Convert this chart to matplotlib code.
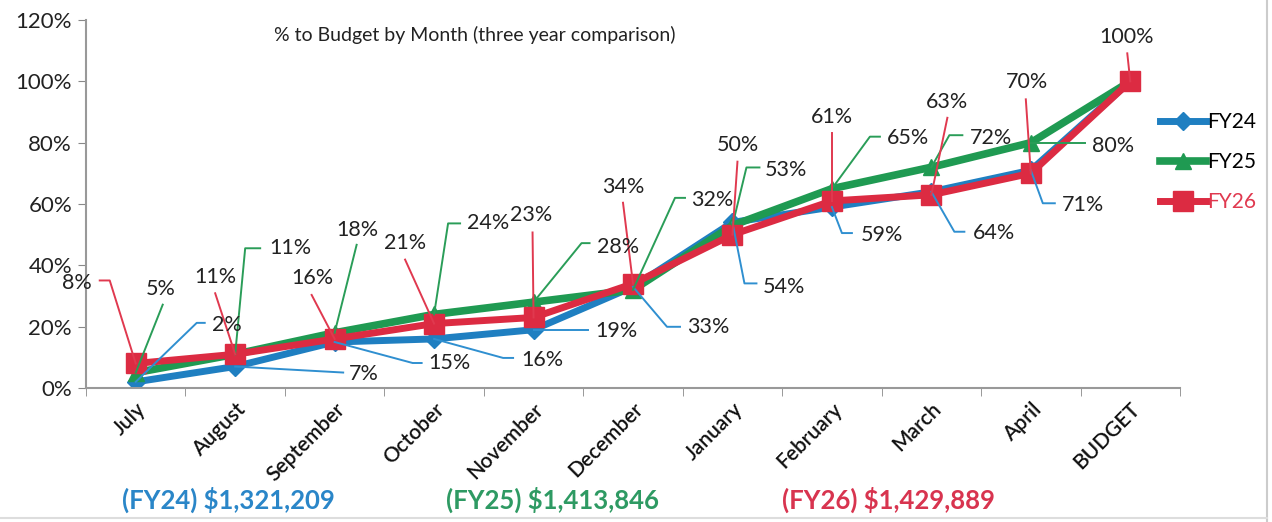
import matplotlib.pyplot as plt
from matplotlib.lines import Line2D

plt.rcParams['font.family'] = ['Lato', 'DejaVu Sans']

# Данные
months = ['July', 'August', 'September', 'October', 'November', 'December',
          'January', 'February', 'March', 'April', 'BUDGET']
fy24 = [2, 7, 15, 16, 19, 33, 54, 59, 64, 71, 100]
fy25 = [5, 11, 18, 24, 28, 32, 53, 65, 72, 80, 100]
fy26 = [8, 11, 16, 21, 23, 34, 50, 61, 63, 70, 100]
series_names = ['FY24', 'FY25', 'FY26']
totals = ['$1,321,209', '$1,413,846', '$1,429,889']

blue = '#1f7fc1'
green = '#1f9a52'
red = '#dc2b42'

# Положение подписей: смещение текста (px) и излом выноски (px), y вниз
lbl24 = [((91, -57), [(61, -59), (69, -59)]),
         ((129, 7), [(108, 6)]),
         ((115, 21), [(78, 21), (87, 21)]),
         ((108, 21), [(69, 19), (79, 19)]),
         ((83, 1), [(54, 0)]),
         ((75, 40), [(34, 40), (47, 40)]),
         ((52, 65), [(12, 61), (24, 61)]),
         ((50, 28), [(10, 26), (20, 26)]),
         ((63, 41), [(23, 40), (33, 40)]),
         ((52, 35), [(12, 33), (24, 33)]),
         None]
lbl25 = [((25, -84), [(27, -68)]),
         ((55, -106), [(10, -106), (25, -106)]),
         ((23, -103), [(22, -88)]),
         ((54, -91), [(14, -91), (26, -91)]),
         ((85, -55), [(48, -59), (56, -59)]),
         ((79, -90), [(42, -92), (52, -92)]),
         ((54, -55), [(14, -58), (27, -58)]),
         ((76, -51), [(38, -52), (48, -52)]),
         ((60, -29), [(18, -32), (31, -32)]),
         ((82, 3), [(54, 0)]),
         None]
lbl26 = [((-59, -80), [(-26, -83), (-36, -83)]),
         ((-20, -77), [(-20, -61)]),
         ((-22, -61), [(-23, -44)]),
         ((-29, -81), [(-29, -64)]),
         ((-2, -102), [(-1, -85)]),
         ((-10, -97), [(-10, -81)]),
         ((5, -90), [(5, -73)]),
         ((0, -84), [(0, -68)]),
         ((16, -93), [(16, -77)]),
         ((-4, -91), [(-5, -74)]),
         ((-4, -44), [(-3, -28)])]

fig = plt.figure(figsize=(12.72, 5.22), dpi=100)
ax = fig.add_axes([86 / 1272, 1 - 388 / 522, 1094 / 1272, 368 / 522])

x = list(range(len(months)))
l1, = ax.plot(x, fy24, color=blue, lw=5, marker='D', ms=9, zorder=2)
l2, = ax.plot(x, fy25, color=green, lw=5.5, marker='^', ms=12, zorder=3)
l3, = ax.plot(x, fy26, color=red, lw=5, marker='s', ms=14, zorder=4)

ax.set_xlim(-0.5, len(months) - 0.5)
ax.set_ylim(0, 120)
ax.set_yticks(range(0, 121, 20))
ax.set_yticklabels([f'{v}%' for v in range(0, 121, 20)], fontsize=16, color='#222222')
ax.set_xticks(x)
ax.set_xticklabels(months, rotation=45, ha='right', rotation_mode='anchor',
                   fontsize=15, color='#111111', fontweight='semibold')
ax.set_xticks([i - 0.5 for i in range(len(months) + 1)], minor=True)
ax.tick_params(axis='x', which='major', length=0, pad=8)
ax.tick_params(axis='x', which='minor', length=6, color='#888888')
ax.tick_params(axis='y', length=6, color='#888888', pad=4)
for s in ['top', 'right']:
    ax.spines[s].set_visible(False)
for s in ['left', 'bottom']:
    ax.spines[s].set_color('#999999')
    ax.spines[s].set_linewidth(1.5)

ax.text(475 / 1272, 1 - 35 / 522, '% to Budget by Month (three year comparison)',
        transform=fig.transFigure, ha='center', va='center', fontsize=14, color='#222222')

# Подписи данных с выносками
inv = ax.transData.inverted()
for vals, lbls, col in [(fy24, lbl24, '#2f8fd0'), (fy25, lbl25, '#2a9d58'), (fy26, lbl26, '#e0394f')]:
    for i, (v, lb) in enumerate(zip(vals, lbls)):
        if lb is None:
            continue
        (tx, ty), path = lb
        px, py = ax.transData.transform((i, v))
        pts = [(px, py)] + [(px + dx, py - dy) for dx, dy in path]
        dpts = inv.transform(pts)
        ax.plot(dpts[:, 0], dpts[:, 1], color=col, lw=1.4, zorder=5, clip_on=False)
        ax.annotate(f'{v}%', xy=(i, v), xytext=(tx, -ty), textcoords='offset pixels',
                    ha='center', va='center', fontsize=15.5, color='#222222', zorder=6)

leg = fig.legend([l1, l2, l3], series_names, loc='center left',
                 bbox_to_anchor=(1160 / 1272, 1 - 162 / 522), frameon=False,
                 fontsize=15, handlelength=2.2, handletextpad=0.05, labelspacing=0.95,
                 borderaxespad=0, borderpad=0)
leg.get_texts()[2].set_color('#e0394f')

# Итоги внизу
for txt, name, col, cx in zip(totals, series_names, ['#2a86c8', '#2e9a63', '#d8344f'], [228, 553, 889]):
    fig.text(cx / 1272, 1 - 500 / 522, f'({name}) {txt}', ha='center', va='center',
             fontsize=18.5, fontweight='bold', color=col)

# рамка скана
fig.add_artist(Line2D([1267 / 1272, 1267 / 1272], [0, 1], color='#cccccc', lw=1.5))
fig.add_artist(Line2D([0, 1267 / 1272], [4 / 522, 4 / 522], color='#dddddd', lw=1.5))

fig.savefig('out.png', dpi=100)
